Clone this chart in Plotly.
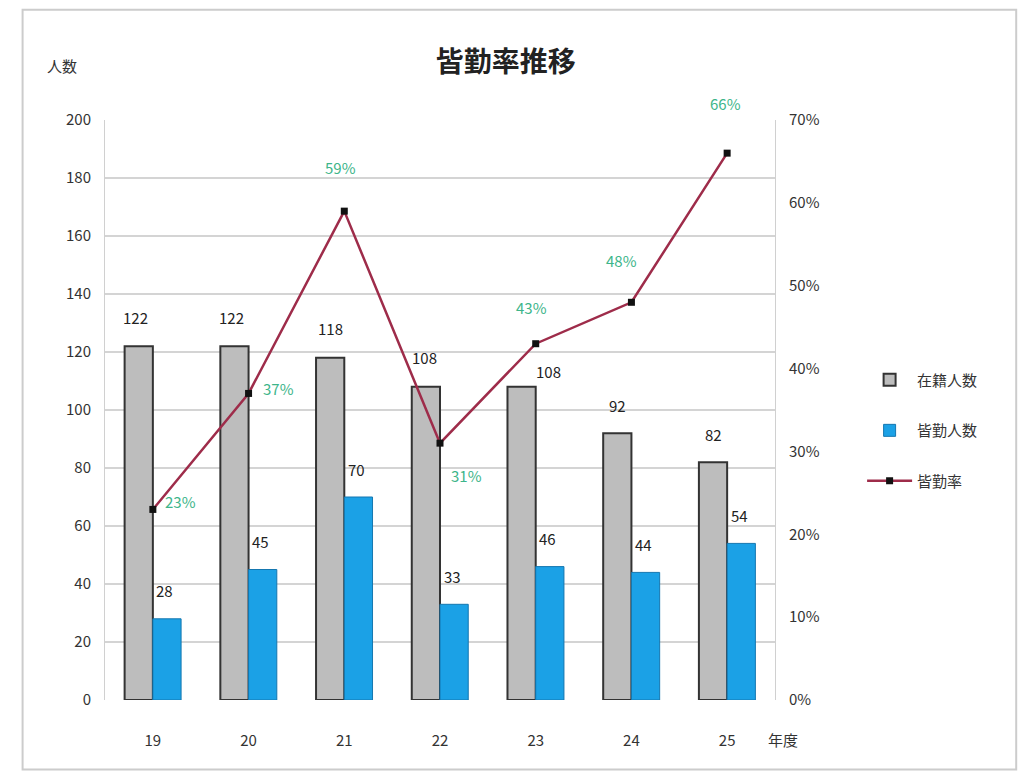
import plotly.graph_objects as go

years = ["19", "20", "21", "22", "23", "24", "25"]
enrolled = [122, 122, 118, 108, 108, 92, 82]
perfect = [28, 45, 70, 33, 46, 44, 54]
rate = [0.23, 0.37, 0.59, 0.31, 0.43, 0.48, 0.66]
rate_labels = ["23%", "37%", "59%", "31%", "43%", "48%", "66%"]

# label offsets (pixels)
rate_dx = [28, 30, -4, 26, -4, -10, -2]
rate_dy = [8, 5, 44, -32, 36, 42, 50]
enr_dx = [-17, -17, -14, -16, 13, -14, -14]
enr_dy = [29, 29, 29, 29, 15, 28, 28]

FONT = "Noto Sans CJK JP"

fig = go.Figure()
fig.add_trace(go.Bar(
    x=years, y=enrolled, name="在籍人数", legendgroup="a",
    marker=dict(color="#bdbdbd", line=dict(color="#333333", width=2)),
))
fig.add_trace(go.Bar(
    x=years, y=perfect, name="皆勤人数", legendgroup="b",
    marker=dict(color="#1ba1e6", line=dict(color="#1577b0", width=1)),
))
fig.add_trace(go.Scatter(
    x=years, y=rate, name="皆勤率", yaxis="y2", legendgroup="c",
    mode="lines+markers",
    line=dict(color="#9e2c4a", width=2.5),
    marker=dict(symbol="square", size=7, color="#111111"),
    cliponaxis=False,
))

annotations = [
    dict(text="人数", xref="paper", yref="paper", x=-0.09, y=1.115, showarrow=False,
         font=dict(size=15)),
    dict(text="年度", xref="paper", yref="paper", x=1.012, y=-0.09, showarrow=False,
         xanchor="center", font=dict(size=15)),
]
for i, v in enumerate(enrolled):
    annotations.append(dict(x=i, y=v, xref="x", yref="y", text=str(v), showarrow=False,
                            xshift=enr_dx[i], yshift=enr_dy[i],
                            font=dict(size=15, color="#222222")))
for i, v in enumerate(perfect):
    annotations.append(dict(x=i, y=v, xref="x", yref="y", text=str(v), showarrow=False,
                            xshift=12, yshift=28, font=dict(size=15, color="#222222")))
for i, (v, t, dx, dy) in enumerate(zip(rate, rate_labels, rate_dx, rate_dy)):
    annotations.append(dict(x=i, y=v, xref="x", yref="y2", text=t, showarrow=False,
                            xshift=dx, yshift=dy, font=dict(size=15, color="#3db58a")))

fig.update_layout(
    width=1028, height=776,
    margin=dict(l=105, r=253, t=120, b=76),
    paper_bgcolor="white", plot_bgcolor="white",
    font=dict(family=FONT, color="#333333", size=15),
    barmode="group", bargap=0.41, bargroupgap=0,
    title=dict(text="<b>皆勤率推移</b>", x=0.492, xanchor="center", y=0.92, yanchor="middle",
               font=dict(size=28, color="#222222", family=FONT)),
    xaxis=dict(type="category", showgrid=False, showline=False, ticks="", tickfont=dict(size=15),
               ticklabelstandoff=30),
    yaxis=dict(range=[0, 200], dtick=20, showgrid=True, gridcolor="#d4d4d4", gridwidth=2,
               showline=True, linecolor="#d0d0d0", ticks="", zeroline=False,
               tickfont=dict(size=15), ticklabelstandoff=10),
    yaxis2=dict(range=[0, 0.7], dtick=0.1, tickformat=".0%", overlaying="y", side="right",
                showgrid=False, showline=True, linecolor="#d0d0d0", ticks="", zeroline=False,
                tickfont=dict(size=15), ticklabelstandoff=10),
    legend=dict(x=1.13, y=0.58, xanchor="left", yanchor="top",
                font=dict(size=15, family=FONT), bgcolor="rgba(0,0,0,0)",
                tracegroupgap=28, itemwidth=45),
    annotations=annotations,
    shapes=[dict(type="rect", xref="paper", yref="paper", x0=-0.123, x1=1.36, y0=-0.12, y1=1.19,
                 line=dict(color="#cccccc", width=2))],
)

fig.write_html("out.html")
